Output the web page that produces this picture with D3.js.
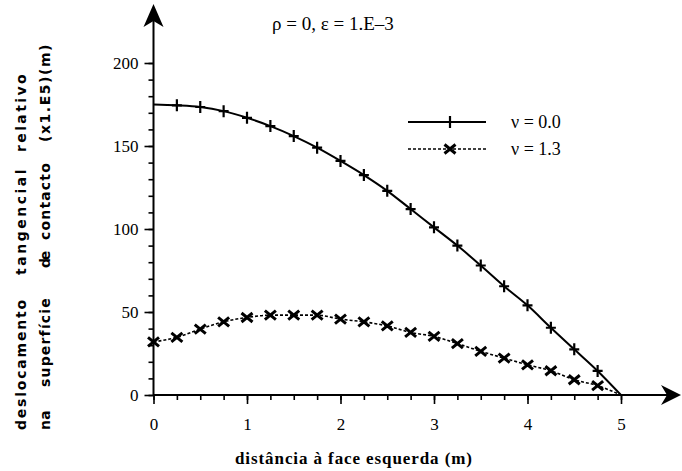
<!DOCTYPE html>
<html><head><meta charset="utf-8">
<script src="https://cdn.jsdelivr.net/npm/d3@7"></script>
<style>body{margin:0;background:#fff}svg{display:block}</style>
</head><body>
<svg id="c" width="682" height="471"></svg>
<script>
// ---- data ----
const xPositions = [0,0.25,0.5,0.75,1,1.25,1.5,1.75,2,2.25,2.5,2.75,3,3.25,3.5,3.75,4,4.25,4.5,4.75,5];
const nu00 = [175,174.5,173.5,171,167,162,156,149,141,132.5,123,112,101,90,78,65.5,54,40.5,27.5,14.5,0];
const nu13 = [32,34.7,39.7,44.1,46.7,48.1,48.1,48.1,45.7,44.1,41.6,37.7,35.3,31,26.3,22.2,18.2,14.6,9.2,5.6,0];
const seriesNames = ["\u03bd = 0.0","\u03bd = 1.3"];
const xTicks = [0,1,2,3,4,5];
const yTicks = [0,50,100,150,200];
const title = "\u03c1 = 0, \u03b5 = 1.E\u20133";
const xLabel = "dist\u00e2ncia \u00e0 face esquerda (m)";
const yLabelLine1 = ["deslocamento","tangencial","relativo"];
const yLabelLine2 = ["na","superf\u00edcie","de","contacto","(x1.E5)(m)"];

const svg = d3.select("#c");
const x = d3.scaleLinear().domain([0,5]).range([153.5,621]);
const y = d3.scaleLinear().domain([0,200]).range([395,63]);
const serif = "'Liberation Serif','Times New Roman',serif";

// axes
const gx = svg.append("g").attr("transform",`translate(0,${y(0)})`);
gx.call(d3.axisBottom(x).tickValues(d3.range(0,5.01,0.25)).tickSize(5).tickFormat(""));
gx.call(g=>g.select(".domain").remove());
const gx2 = svg.append("g").attr("transform",`translate(0,${y(0)})`)
  .call(d3.axisBottom(x).tickValues(xTicks).tickSize(9).tickPadding(14).tickFormat(d3.format("d")));
gx2.select(".domain").remove();
gx2.selectAll("text").attr("font-family",serif).attr("font-size",17).attr("fill","#000");

const gy = svg.append("g").attr("transform",`translate(${x(0)},0)`);
gy.call(d3.axisLeft(y).tickValues(d3.range(0,201,10)).tickSize(5).tickFormat(""));
gy.select(".domain").remove();
const gy2 = svg.append("g").attr("transform",`translate(${x(0)},0)`)
  .call(d3.axisLeft(y).tickValues(yTicks).tickSize(9).tickPadding(6).tickFormat(d3.format("d")));
gy2.select(".domain").remove();
gy2.selectAll("text").attr("font-family",serif).attr("font-size",17).attr("fill","#000");
svg.selectAll(".tick line").attr("stroke","#000").attr("stroke-width",1.6);

// axis lines with arrows
svg.append("line").attr("x1",x(0)).attr("x2",672).attr("y1",y(0)).attr("y2",y(0)).attr("stroke","#000").attr("stroke-width",2);
svg.append("line").attr("x1",x(0)).attr("x2",x(0)).attr("y1",y(0)).attr("y2",14).attr("stroke","#000").attr("stroke-width",2);
svg.append("path").attr("d",`M681,${y(0)} L661,${y(0)-10} L667,${y(0)} L661,${y(0)+10} Z`).attr("fill","#000");
svg.append("path").attr("d",`M${x(0)},4 L${x(0)-10},27 L${x(0)},21 L${x(0)+10},27 Z`).attr("fill","#000");

// lines
const d1 = xPositions.map((v,i)=>[v,nu00[i]]);
const d2 = xPositions.map((v,i)=>[v,nu13[i]]);
const line = d3.line().x(d=>x(d[0])).y(d=>y(d[1])).curve(d3.curveMonotoneX);
svg.append("path").attr("d",line(d1)).attr("fill","none").attr("stroke","#000").attr("stroke-width",2);
svg.append("path").attr("d",line(d2)).attr("fill","none").attr("stroke","#000").attr("stroke-width",1.6).attr("stroke-dasharray","3,2");

function plus(g,cx,cy){
  g.append("path").attr("d",`M${cx},${cy-6}V${cy+6}M${cx-5},${cy}H${cx+5}`).attr("stroke","#000").attr("stroke-width",2.2).attr("fill","none");
}
function cross(g,cx,cy){
  g.append("path").attr("d",`M${cx-5.5},${cy-4.5}L${cx+5.5},${cy+4.5}M${cx-5.5},${cy+4.5}L${cx+5.5},${cy-4.5}`).attr("stroke","#000").attr("stroke-width",3).attr("fill","none");
}
const mk = svg.append("g");
d1.slice(1,-1).forEach(d=>plus(mk,x(d[0]),y(d[1])));
d2.slice(0,-1).forEach(d=>cross(mk,x(d[0]),y(d[1])));

// legend
const lg = svg.append("g");
[[122,0],[149,1]].forEach(([ly,i])=>{
  lg.append("line").attr("x1",408).attr("x2",486).attr("y1",ly).attr("y2",ly).attr("stroke","#000")
    .attr("stroke-width",i?1.6:2).attr("stroke-dasharray",i?"3,2":null);
  if(i) cross(lg,450,ly); else plus(lg,450,ly);
  lg.append("text").attr("x",511).attr("y",ly+6).attr("font-family",serif).attr("font-size",18).text(seriesNames[i]);
});

// title
svg.append("text").attr("x",272).attr("y",30).attr("font-family",serif).attr("font-size",19).text(title);

// x label
svg.append("text").attr("x",235).attr("y",464).attr("font-family",serif).attr("font-size",17).attr("font-weight","bold")
  .attr("textLength",237).attr("lengthAdjust","spacing").text(xLabel);

// y label (rotated words, spread with letter-spacing)
const sans = "'DejaVu Sans',sans-serif";
const w1 = [[430,298],[275,167],[152,72]];
const w2 = [[430,410],[387,297],[268,253],[240,162],[142,43]];
function yword(txt,bx,y0,y1){
  const t = svg.append("text").attr("transform",`translate(${bx},${y0}) rotate(-90)`)
    .style("font-family",sans).style("font-size","14px").style("font-weight","bold").text(txt);
  const nat = t.node().getComputedTextLength();
  const n = txt.length;
  t.style("letter-spacing",(((y0-y1)-nat)/n).toFixed(2)+"px");
}
yLabelLine1.forEach((t,i)=>yword(t,26,w1[i][0],w1[i][1]));
yLabelLine2.forEach((t,i)=>yword(t,50,w2[i][0],w2[i][1]));
</script>
</body></html>
